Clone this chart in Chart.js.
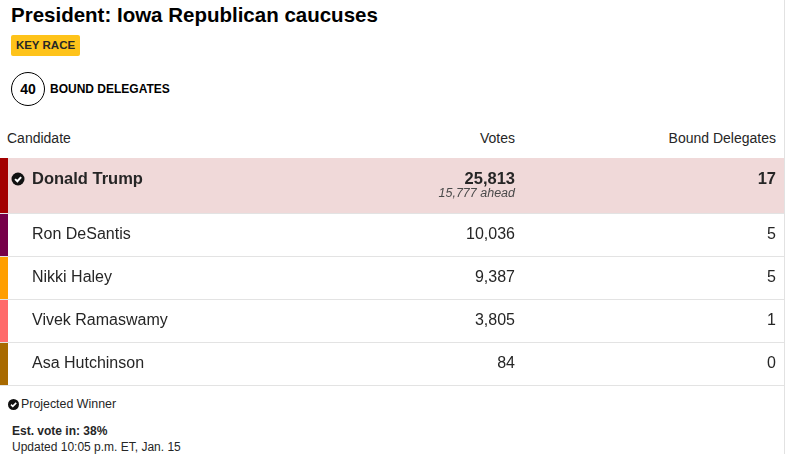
<!DOCTYPE html>
<html>
<head>
<meta charset="utf-8">
<script src="https://cdn.jsdelivr.net/npm/chart.js@4"></script>
<style>
  html, body { margin: 0; padding: 0; background: #fff; }
  body { width: 788px; height: 454px; position: relative; overflow: hidden;
         font-family: "Liberation Sans", Arial, sans-serif; color: #262626; }
  .abs { position: absolute; white-space: nowrap; }
  #edge { position: absolute; left: 784px; top: 0; width: 1px; height: 454px; background: #e2e2e2; }
  #title { left: 11px; top: 3px; font-size: 20.5px; font-weight: bold; color: #000; line-height: 24px; }
  #badge { left: 11px; top: 35px; width: 69px; height: 21px; background: #fec31a; border-radius: 2px;
           font-size: 11.5px; font-weight: bold; line-height: 21px; text-align: center; color: #262626; }
  #ring { left: 11px; top: 72px; width: 32px; height: 32px; border: 1px solid #000; border-radius: 50%;
          font-size: 14px; font-weight: bold; line-height: 32px; text-align: center; color: #000; }
  #boundLabel { left: 50px; top: 82px; font-size: 12px; font-weight: bold; line-height: 14px; color: #000; }
  .th { top: 130px; font-size: 14px; line-height: 16px; }
  #tableWrap { position: absolute; left: 0; top: 158px; width: 784px; height: 228px; }
  .foot { left: 12px; font-size: 12.4px; line-height: 14px; }
</style>
</head>
<body>
<div id="edge"></div>
<div class="abs" id="title">President: Iowa Republican caucuses</div>
<div class="abs" id="badge">KEY RACE</div>
<div class="abs" id="ring"></div>
<div class="abs" id="boundLabel">BOUND DELEGATES</div>

<div class="abs th" style="left:7px">Candidate</div>
<div class="abs th" style="right:273px">Votes</div>
<div class="abs th" style="right:12px">Bound Delegates</div>

<div id="tableWrap"><canvas id="results"></canvas></div>

<svg class="abs" style="left:8px;top:399px" width="11" height="11" viewBox="0 0 11 11">
  <circle cx="5.5" cy="5.5" r="5.5" fill="#111"/>
  <path d="M3 5.6 L4.8 7.4 L8.2 3.9" stroke="#fff" stroke-width="1.6" fill="none"/>
</svg>
<div class="abs foot" style="left:21px;top:397px">Projected Winner</div>
<div class="abs foot" id="estIn" style="top:424px;font-weight:bold;font-size:12px"></div>
<div class="abs foot" style="top:440px;font-size:12px">Updated 10:05 p.m. ET, Jan. 15</div>

<script>
const candidates = ['Donald Trump', 'Ron DeSantis', 'Nikki Haley', 'Vivek Ramaswamy', 'Asa Hutchinson'];
const votes = [25813, 10036, 9387, 3805, 84];
const delegates = [17, 5, 5, 1, 0];
const partyColors = ['#a30000', '#760048', '#ff9f00', '#ff6b6b', '#a86a00'];
const totalDelegates = 40;
const voteIn = 38;
const winnerIndex = 0;

// the winner row holds an extra line ("x ahead"), so it is a bit taller
const WINNER_ROW = 55 / 43;
const rowSpan = candidates.map((c, i) => i === winnerIndex ? WINNER_ROW : 1);
const rowStart = rowSpan.map((s, i) => rowSpan.slice(0, i).reduce((a, b) => a + b, 0));
const totalRows = rowSpan.reduce((a, b) => a + b, 0);

document.getElementById('ring').textContent = totalDelegates;
document.getElementById('estIn').textContent = `Est. vote in: ${voteIn}%`;

const fmt = n => n.toLocaleString('en-US');
const FONT = '"Liberation Sans", Arial, sans-serif';
const VOTES_RIGHT = 515;
const DEL_RIGHT = 776;

function drawCheck(ctx, x, y, r) {
    ctx.save();
    ctx.fillStyle = '#111';
    ctx.beginPath();
    ctx.arc(x, y, r, 0, Math.PI * 2);
    ctx.fill();
    ctx.strokeStyle = '#fff';
    ctx.lineWidth = 2;
    ctx.beginPath();
    ctx.moveTo(x - r * 0.45, y + r * 0.02);
    ctx.lineTo(x - r * 0.1, y + r * 0.35);
    ctx.lineTo(x + r * 0.48, y - r * 0.3);
    ctx.stroke();
    ctx.restore();
}

const cellText = {
    id: 'cellText',
    afterDatasetsDraw(chart) {
        const { ctx, scales: { y }, chartArea } = chart;
        ctx.save();
        ctx.fillStyle = '#262626';
        ctx.textBaseline = 'middle';
        candidates.forEach((name, i) => {
            const top = y.getPixelForValue(rowStart[i]);
            const winner = i === winnerIndex;
            const mid = winner ? top + 21 : y.getPixelForValue(rowStart[i] + rowSpan[i] / 2);
            ctx.font = winner ? `bold 16.5px ${FONT}` : `16px ${FONT}`;
            ctx.textAlign = 'left';
            ctx.fillText(name, chartArea.left + 32, mid);
            ctx.textAlign = 'right';
            ctx.fillText(fmt(votes[i]), VOTES_RIGHT, mid);
            ctx.fillText(String(delegates[i]), DEL_RIGHT, mid);
            if (winner) {
                drawCheck(ctx, chartArea.left + 18, mid, 6.5);
                const runnerUp = Math.max(...votes.filter((v, j) => j !== i));
                ctx.font = `italic 12.5px ${FONT}`;
                ctx.fillStyle = '#4a4a4a';
                ctx.fillText(`${fmt(votes[i] - runnerUp)} ahead`, VOTES_RIGHT, mid + 15);
                ctx.fillStyle = '#262626';
            }
        });
        ctx.restore();
    }
};

new Chart(document.getElementById('results'), {
    type: 'bar',
    data: {
        labels: ['results'],
        datasets: candidates.map((name, i) => ({
            label: name,
            data: [rowSpan[i]],
            backgroundColor: i === winnerIndex ? '#f0d9d9' : '#ffffff',
            borderColor: partyColors[i],
            borderWidth: { left: 8, top: 0, right: 0, bottom: 0 },
            borderSkipped: false,
            inflateAmount: 0,
            categoryPercentage: 1,
            barPercentage: 1
        }))
    },
    options: {
        responsive: true,
        maintainAspectRatio: false,
        animation: false,
        layout: { padding: { bottom: 1 } },
        plugins: {
            legend: { display: false },
            tooltip: { enabled: false }
        },
        scales: {
            x: { display: false, stacked: true },
            y: {
                stacked: true,
                reverse: true,
                min: 0,
                max: totalRows,
                ticks: { display: false },
                border: { display: false },
                grid: { color: '#e3e3e3', lineWidth: 1, drawTicks: false, z: 1 },
                afterBuildTicks: scale => {
                    scale.ticks = rowStart.slice(1).concat(totalRows).map(v => ({ value: v }));
                },
                afterFit: scale => { scale.width = 0; }
            }
        }
    },
    plugins: [cellText]
});
</script>
</body>
</html>
